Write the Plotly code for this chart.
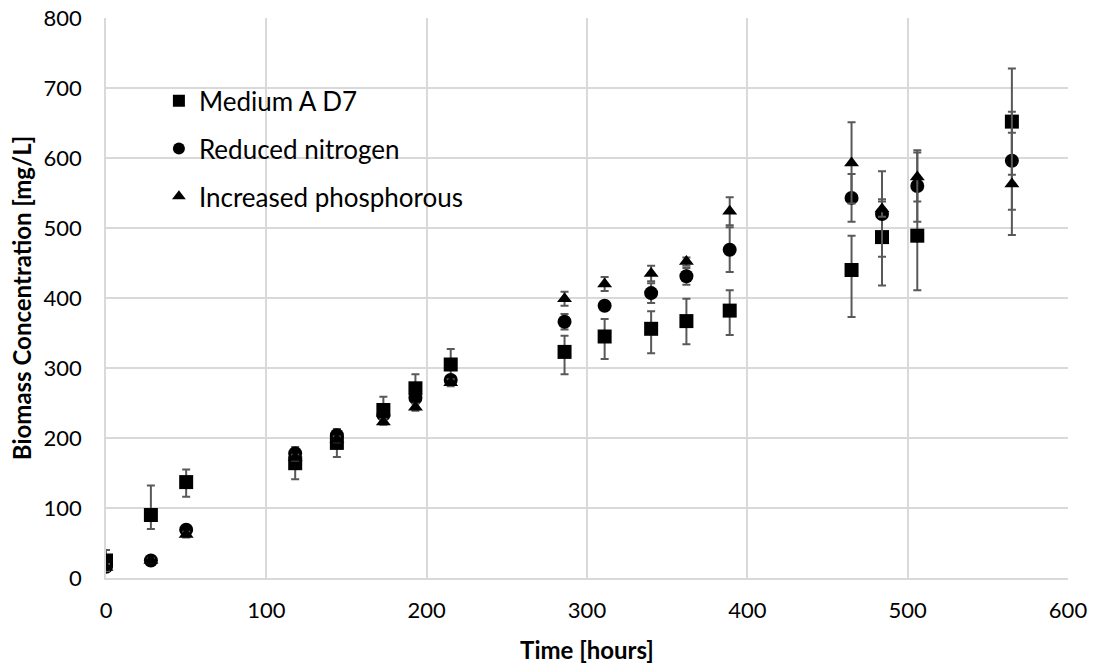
import plotly.graph_objects as go

time_h = [0, 28, 50, 118, 144, 173, 193, 215, 286, 311, 340, 362, 389, 465, 484, 506, 565]

medium_a = [25, 90, 137, 164, 193, 240, 271, 305, 323, 345, 356, 367, 382, 440, 487, 489, 652]
medium_a_err_plus = [15, 42, 18, 23, 20, 19, 20, 22, 23, 25, 25, 32, 29, 49, 54, 78, 76]
medium_a_err_minus = [15, 20, 21, 23, 20, 19, 20, 22, 32, 32, 35, 33, 35, 67, 69, 78, 76]

reduced_n = [16, 25, 69, 178, 204, 233, 257, 283, 366, 389, 407, 431, 469, 543, 520, 560, 596]
reduced_n_err = [5, 3, 4, 4, 4, 5, 5, 5, 11, 6, 14, 12, 32, 34, 61, 51, 70]

increased_p = [15, 25, 62, 172, 198, 223, 244, 279, 399, 420, 435, 452, 524, 593, 527, 573, 563]
increased_p_err = [5, 3, 4, 4, 4, 4, 5, 5, 10, 10, 11, 6, 20, 58, 11, 35, 73]

names = ["Medium A D7", "Reduced nitrogen", "Increased phosphorous"]
x_ticks = [0, 100, 200, 300, 400, 500, 600]
y_ticks = [0, 100, 200, 300, 400, 500, 600, 700, 800]

err_color = "#595959"
fig = go.Figure()

fig.add_trace(go.Scatter(
    x=time_h, y=medium_a, mode="markers", name=names[0], legendgroup="a",
    marker=dict(symbol="square", size=14, color="black"),
    error_y=dict(type="data", array=medium_a_err_plus, arrayminus=medium_a_err_minus,
                 symmetric=False, color=err_color, thickness=2, width=4),
))
fig.add_trace(go.Scatter(
    x=time_h, y=reduced_n, mode="markers", name=names[1], legendgroup="n",
    marker=dict(symbol="circle", size=14, color="black"),
    error_y=dict(type="data", array=reduced_n_err, color=err_color, thickness=2, width=4),
))
fig.add_trace(go.Scatter(
    x=time_h, y=increased_p, mode="markers", name=names[2], legendgroup="p",
    marker=dict(symbol="triangle-up", size=13, color="black"),
    error_y=dict(type="data", array=increased_p_err, color=err_color, thickness=2, width=4),
))

fig.update_layout(
    width=1097, height=664,
    margin=dict(l=106, r=29, t=18, b=86),
    paper_bgcolor="white", plot_bgcolor="white",
    font=dict(family="Lato, Open Sans, sans-serif", color="black", size=22),
    showlegend=True,
    legend=dict(
        x=0.055, y=0.894, xanchor="left", yanchor="top",
        bgcolor="rgba(0,0,0,0)", font=dict(size=26),
        traceorder="grouped", tracegroupgap=11, itemsizing="constant",
    ),
    xaxis=dict(
        range=[0, 600], tickvals=x_ticks, showgrid=True, gridcolor="#d9d9d9", gridwidth=1.5,
        showline=True, linecolor="#d9d9d9", linewidth=1.5, zeroline=False, automargin=False,
        ticks="outside", ticklen=12, tickcolor="rgba(0,0,0,0)", tickfont=dict(size=22),
        title=dict(text="<b>Time [hours]</b>", font=dict(size=24), standoff=20),
    ),
    yaxis=dict(
        range=[0, 800], tickvals=y_ticks, showgrid=True, gridcolor="#d9d9d9", gridwidth=1.5,
        showline=True, linecolor="#d9d9d9", linewidth=1.5, zeroline=False, automargin=False,
        ticks="outside", ticklen=18, tickcolor="rgba(0,0,0,0)", tickfont=dict(size=22),
        title=dict(text="<b>Biomass Concentration [mg/L]</b>", font=dict(size=24), standoff=5),
    ),
)

fig.write_html("out.html")
